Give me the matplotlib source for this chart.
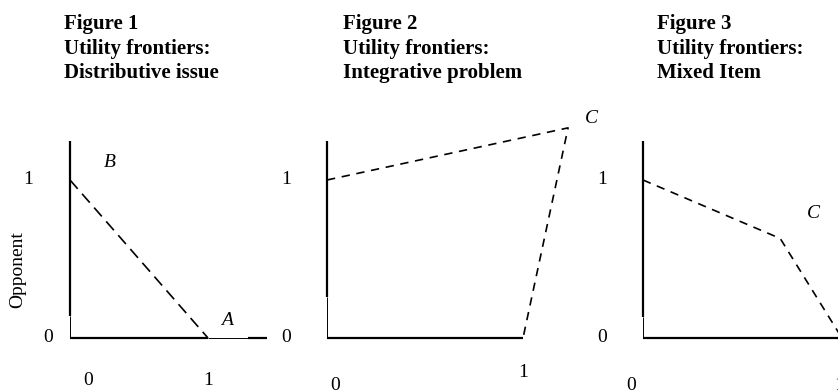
import matplotlib
matplotlib.use("Agg")
import matplotlib.pyplot as plt

plt.rcParams['font.family'] = ['Liberation Serif', 'DejaVu Serif']

# frontier data (utility units: self on x, opponent on y)
p1_x = [0, 1]
p1_y = [1, 0]
p2_x = [0, 1.23, 1]
p2_y = [1, 1.33, 0]
p3_x = [0, 0.70, 1.0]
p3_y = [1, 0.63, 0.03]

titles = ["Figure 1\nUtility frontiers:\nDistributive issue",
          "Figure 2\nUtility frontiers:\nIntegrative problem",
          "Figure 3\nUtility frontiers:\nMixed Item"]

W, H = 838, 390
fig = plt.figure(figsize=(W / 100, H / 100), dpi=100)


def panel(ox, ux, oy=338, uy=158):
    # transparent axes over whole figure, origin at pixel (ox, oy)
    ax = fig.add_axes([0, 0, 1, 1])
    ax.set_xlim(-ox / ux, (W - ox) / ux)
    ax.set_ylim(-(H - oy) / uy, oy / uy)
    ax.axis("off")
    ax.patch.set_alpha(0)
    return ax


def axes_lines(ax, thick_from, xend, thin_seg=None):
    ax.plot([0, 0], [thick_from, 1.25], color="black", lw=1.6, solid_capstyle="butt")
    ax.plot([0, 0], [0, thick_from], color="black", lw=0.7, solid_capstyle="butt")
    if thin_seg:
        a, b = thin_seg
        ax.plot([0, a], [0, 0], color="black", lw=1.6, solid_capstyle="butt")
        ax.plot([a, b], [0, 0], color="black", lw=0.7, solid_capstyle="butt")
        ax.plot([b, xend], [0, 0], color="black", lw=1.6, solid_capstyle="butt")
    else:
        ax.plot([0, xend], [0, 0], color="black", lw=1.6, solid_capstyle="butt")


fs = 14
tfs = 15

# Figure 1
ax1 = panel(70, 138)
axes_lines(ax1, 0.14, 1.43, thin_seg=(1.0, 1.29))
ax1.plot(p1_x, p1_y, color="black", lw=1.2, dashes=(7, 4))
ax1.text(-0.30, 1, "1", fontsize=fs, ha="center", va="center")
ax1.text(-0.16, 0, "0", fontsize=fs, ha="center", va="center")
ax1.text(0.13, -0.27, "0", fontsize=fs, ha="center", va="center")
ax1.text(1.0, -0.27, "1", fontsize=fs, ha="center", va="center")
ax1.text(-0.38, 0.43, "Opponent", fontsize=fs, ha="center", va="center", rotation=90)
ax1.text(0.29, 1.11, "B", fontsize=fs, style="italic", ha="center", va="center")
ax1.text(1.14, 0.11, "A", fontsize=fs, style="italic", ha="center", va="center")
ax1.text(-0.04, 1.83, titles[0], fontsize=tfs, fontweight="bold", ha="left",
         va="center", linespacing=1.3)

# Figure 2
ax2 = panel(327, 196)
axes_lines(ax2, 0.26, 1.0)
ax2.plot(p2_x, p2_y, color="black", lw=1.2, dashes=(5, 4))
ax2.text(-0.21, 1, "1", fontsize=fs, ha="center", va="center")
ax2.text(-0.21, 0, "0", fontsize=fs, ha="center", va="center")
ax2.text(0.04, -0.30, "0", fontsize=fs, ha="center", va="center")
ax2.text(1.0, -0.22, "1", fontsize=fs, ha="center", va="center")
ax2.text(1.35, 1.39, "C", fontsize=fs, style="italic", ha="center", va="center")
ax2.text(0.08, 1.83, titles[1], fontsize=tfs, fontweight="bold", ha="left",
         va="center", linespacing=1.3)

# Figure 3
ax3 = panel(643, 196)
axes_lines(ax3, 0.13, 1.0)
ax3.plot(p3_x, p3_y, color="black", lw=1.2, dashes=(5, 4))
ax3.text(-0.21, 1, "1", fontsize=fs, ha="center", va="center")
ax3.text(-0.21, 0, "0", fontsize=fs, ha="center", va="center")
ax3.text(-0.06, -0.30, "0", fontsize=fs, ha="center", va="center")
ax3.text(1.0, -0.30, "1", fontsize=fs, ha="center", va="center")
ax3.text(0.87, 0.79, "C", fontsize=fs, style="italic", ha="center", va="center")
ax3.text(0.07, 1.83, titles[2], fontsize=tfs, fontweight="bold", ha="left",
         va="center", linespacing=1.3)

fig.savefig("out.png", dpi=100)
